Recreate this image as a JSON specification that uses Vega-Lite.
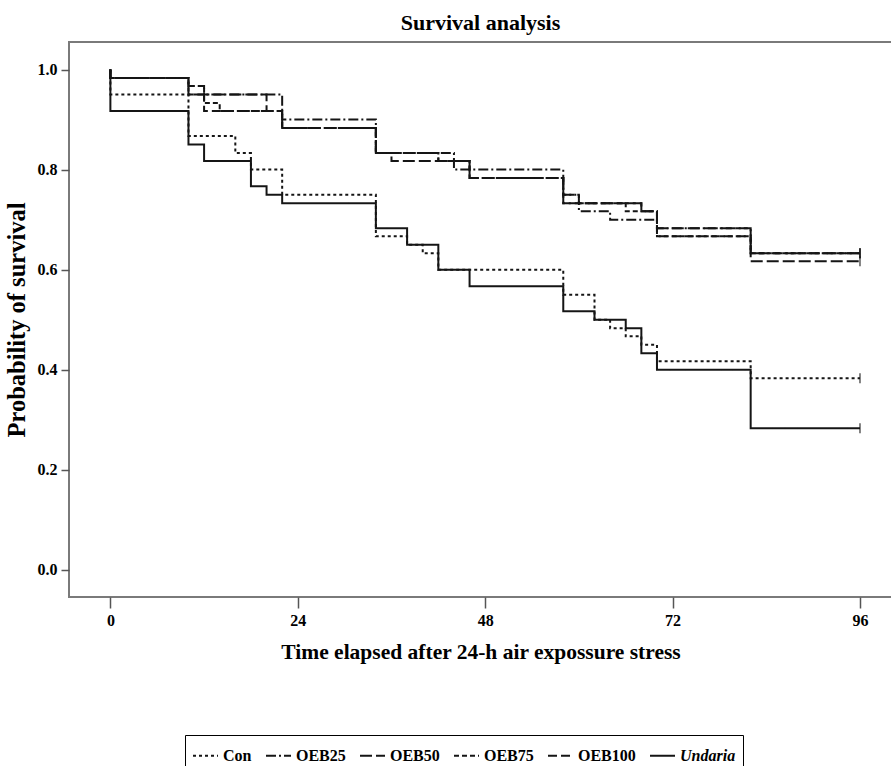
{
  "$schema": "https://vega.github.io/schema/vega-lite/v6.json",
  "autosize": {"type": "none"},
  "padding": {"left": 69, "top": 42, "right": 0, "bottom": 169},
  "width": 823,
  "height": 555,
  "background": "white",
  "title": {
    "text": "Survival analysis",
    "font": "Liberation Serif",
    "fontSize": 22,
    "fontWeight": "bold",
    "color": "black",
    "anchor": "middle",
    "offset": 7
  },
  "config": {
    "view": {"stroke": "#7a7a7a", "strokeWidth": 2},
    "axis": {
      "grid": false,
      "domain": false,
      "tickColor": "#555555",
      "tickWidth": 1.5,
      "labelFont": "Liberation Serif",
      "labelFontWeight": "bold",
      "labelColor": "black",
      "titleFont": "Liberation Serif",
      "titleFontWeight": "bold",
      "titleColor": "black"
    }
  },
  "data": {
    "values": [
      {"group": "Con", "i": 0, "t": 0, "v": 1.0},
      {"group": "Con", "i": 1, "t": 0, "v": 0.95},
      {"group": "Con", "i": 2, "t": 10, "v": 0.867},
      {"group": "Con", "i": 3, "t": 16, "v": 0.833},
      {"group": "Con", "i": 4, "t": 18, "v": 0.8},
      {"group": "Con", "i": 5, "t": 22, "v": 0.75},
      {"group": "Con", "i": 6, "t": 34, "v": 0.667},
      {"group": "Con", "i": 7, "t": 38, "v": 0.65},
      {"group": "Con", "i": 8, "t": 40, "v": 0.633},
      {"group": "Con", "i": 9, "t": 42, "v": 0.6},
      {"group": "Con", "i": 10, "t": 58, "v": 0.55},
      {"group": "Con", "i": 11, "t": 62, "v": 0.5},
      {"group": "Con", "i": 12, "t": 64, "v": 0.483},
      {"group": "Con", "i": 13, "t": 66, "v": 0.467},
      {"group": "Con", "i": 14, "t": 68, "v": 0.45},
      {"group": "Con", "i": 15, "t": 70, "v": 0.417},
      {"group": "Con", "i": 16, "t": 82, "v": 0.383},
      {"group": "Con", "i": 17, "t": 96, "v": 0.383},

      {"group": "OEB25", "i": 0, "t": 0, "v": 1.0},
      {"group": "OEB25", "i": 1, "t": 0, "v": 0.983},
      {"group": "OEB25", "i": 2, "t": 10, "v": 0.95},
      {"group": "OEB25", "i": 3, "t": 22, "v": 0.9},
      {"group": "OEB25", "i": 4, "t": 34, "v": 0.833},
      {"group": "OEB25", "i": 5, "t": 44, "v": 0.8},
      {"group": "OEB25", "i": 6, "t": 58, "v": 0.75},
      {"group": "OEB25", "i": 7, "t": 60, "v": 0.717},
      {"group": "OEB25", "i": 8, "t": 64, "v": 0.7},
      {"group": "OEB25", "i": 9, "t": 70, "v": 0.683},
      {"group": "OEB25", "i": 10, "t": 82, "v": 0.633},
      {"group": "OEB25", "i": 11, "t": 96, "v": 0.633},

      {"group": "OEB50", "i": 0, "t": 0, "v": 1.0},
      {"group": "OEB50", "i": 1, "t": 0, "v": 0.983},
      {"group": "OEB50", "i": 2, "t": 10, "v": 0.95},
      {"group": "OEB50", "i": 3, "t": 20, "v": 0.917},
      {"group": "OEB50", "i": 4, "t": 22, "v": 0.883},
      {"group": "OEB50", "i": 5, "t": 34, "v": 0.833},
      {"group": "OEB50", "i": 6, "t": 36, "v": 0.817},
      {"group": "OEB50", "i": 7, "t": 46, "v": 0.783},
      {"group": "OEB50", "i": 8, "t": 58, "v": 0.733},
      {"group": "OEB50", "i": 9, "t": 68, "v": 0.717},
      {"group": "OEB50", "i": 10, "t": 70, "v": 0.683},
      {"group": "OEB50", "i": 11, "t": 82, "v": 0.617},
      {"group": "OEB50", "i": 12, "t": 96, "v": 0.617},

      {"group": "OEB75", "i": 0, "t": 0, "v": 1.0},
      {"group": "OEB75", "i": 1, "t": 0, "v": 0.983},
      {"group": "OEB75", "i": 2, "t": 10, "v": 0.967},
      {"group": "OEB75", "i": 3, "t": 12, "v": 0.933},
      {"group": "OEB75", "i": 4, "t": 14, "v": 0.917},
      {"group": "OEB75", "i": 5, "t": 22, "v": 0.883},
      {"group": "OEB75", "i": 6, "t": 34, "v": 0.833},
      {"group": "OEB75", "i": 7, "t": 42, "v": 0.817},
      {"group": "OEB75", "i": 8, "t": 46, "v": 0.783},
      {"group": "OEB75", "i": 9, "t": 58, "v": 0.75},
      {"group": "OEB75", "i": 10, "t": 60, "v": 0.733},
      {"group": "OEB75", "i": 11, "t": 66, "v": 0.717},
      {"group": "OEB75", "i": 12, "t": 70, "v": 0.667},
      {"group": "OEB75", "i": 13, "t": 82, "v": 0.633},
      {"group": "OEB75", "i": 14, "t": 96, "v": 0.633},

      {"group": "OEB100", "i": 0, "t": 0, "v": 1.0},
      {"group": "OEB100", "i": 1, "t": 0, "v": 0.983},
      {"group": "OEB100", "i": 2, "t": 10, "v": 0.967},
      {"group": "OEB100", "i": 3, "t": 12, "v": 0.917},
      {"group": "OEB100", "i": 4, "t": 22, "v": 0.883},
      {"group": "OEB100", "i": 5, "t": 34, "v": 0.833},
      {"group": "OEB100", "i": 6, "t": 42, "v": 0.817},
      {"group": "OEB100", "i": 7, "t": 46, "v": 0.783},
      {"group": "OEB100", "i": 8, "t": 58, "v": 0.733},
      {"group": "OEB100", "i": 9, "t": 68, "v": 0.717},
      {"group": "OEB100", "i": 10, "t": 70, "v": 0.667},
      {"group": "OEB100", "i": 11, "t": 82, "v": 0.633},
      {"group": "OEB100", "i": 12, "t": 96, "v": 0.633},

      {"group": "Undaria", "i": 0, "t": 0, "v": 1.0},
      {"group": "Undaria", "i": 1, "t": 0, "v": 0.917},
      {"group": "Undaria", "i": 2, "t": 10, "v": 0.85},
      {"group": "Undaria", "i": 3, "t": 12, "v": 0.817},
      {"group": "Undaria", "i": 4, "t": 18, "v": 0.767},
      {"group": "Undaria", "i": 5, "t": 20, "v": 0.75},
      {"group": "Undaria", "i": 6, "t": 22, "v": 0.733},
      {"group": "Undaria", "i": 7, "t": 34, "v": 0.683},
      {"group": "Undaria", "i": 8, "t": 38, "v": 0.65},
      {"group": "Undaria", "i": 9, "t": 42, "v": 0.6},
      {"group": "Undaria", "i": 10, "t": 46, "v": 0.567},
      {"group": "Undaria", "i": 11, "t": 58, "v": 0.517},
      {"group": "Undaria", "i": 12, "t": 62, "v": 0.5},
      {"group": "Undaria", "i": 13, "t": 66, "v": 0.483},
      {"group": "Undaria", "i": 14, "t": 68, "v": 0.433},
      {"group": "Undaria", "i": 15, "t": 70, "v": 0.4},
      {"group": "Undaria", "i": 16, "t": 82, "v": 0.283},
      {"group": "Undaria", "i": 17, "t": 96, "v": 0.283}
    ]
  },
  "encoding": {
    "x": {
      "field": "t",
      "type": "quantitative",
      "scale": {"domain": [-5.3, 100.1], "nice": false, "zero": false},
      "axis": {
        "title": "Time elapsed after 24-h air expossure stress",
        "values": [0, 24, 48, 72, 96],
        "tickSize": 11,
        "labelFontSize": 16,
        "labelPadding": 4,
        "titleFontSize": 21.5,
        "titlePadding": 13
      }
    },
    "y": {
      "field": "v",
      "type": "quantitative",
      "scale": {"domain": [-0.054, 1.055], "nice": false, "zero": false},
      "axis": {
        "title": "Probability of survival",
        "values": [0, 0.2, 0.4, 0.6, 0.8, 1.0],
        "format": ".1f",
        "tickSize": 8,
        "labelFontSize": 16,
        "labelPadding": 4,
        "titleFontSize": 24.5,
        "titlePadding": 8
      }
    }
  },
  "layer": [
    {
      "mark": {"type": "line", "interpolate": "step-after", "strokeWidth": 2, "color": "#151515"},
      "encoding": {
        "order": {"field": "i", "type": "quantitative"},
        "detail": {"field": "group"},
        "strokeDash": {
          "field": "group",
          "type": "nominal",
          "scale": {
            "domain": ["Con", "OEB25", "OEB50", "OEB75", "OEB100", "Undaria"],
            "range": [[3, 3], [10, 3, 2, 3], [12, 4], [5, 3], [9, 4], [1, 0]]
          },
          "legend": {
            "title": null,
            "orient": "none",
            "legendX": 116,
            "legendY": 693,
            "direction": "horizontal",
            "columns": 6,
            "columnPadding": 10,
            "padding": 7,
            "strokeColor": "black",
            "symbolType": "stroke",
            "symbolSize": 625,
            "symbolStrokeWidth": 2,
            "symbolStrokeColor": "#151515",
            "labelFont": "Liberation Serif",
            "labelFontWeight": "bold",
            "labelFontSize": 16,
            "labelColor": "black",
            "labelOffset": 4,
            "encode": {
              "labels": {
                "update": {
                  "fontStyle": {"signal": "datum.label === 'Undaria' ? 'italic' : 'normal'"}
                }
              }
            }
          }
        }
      }
    },
    {
      "transform": [{"filter": "datum.t === 96"}],
      "mark": {"type": "tick", "orient": "vertical", "size": 10, "thickness": 1.5, "color": "#151515"},
      "encoding": {}
    }
  ]
}
